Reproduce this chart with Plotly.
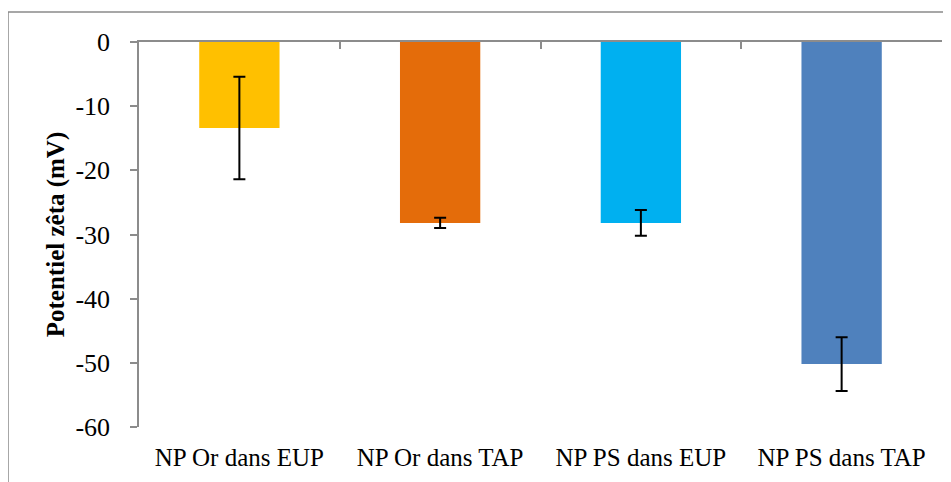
import plotly.graph_objects as go

categories = ["NP Or dans EUP", "NP Or dans TAP", "NP PS dans EUP", "NP PS dans TAP"]
values = [-13.4, -28.2, -28.2, -50.2]
errors = [8.0, 0.8, 2.0, 4.2]
colors = ["#FFC000", "#E46C0A", "#00B0F0", "#4F81BD"]
y_ticks = [0, -10, -20, -30, -40, -50, -60]

OFF = 8  # page body margin offset
W, H = 951 - OFF, 482 - OFF
ml, mr, mt, mb = 139 - OFF, 17 - OFF, 42 - OFF, 55
pw, ph = W - ml - mr, H - mt - mb

font_family = "Liberation Serif"
axis_grey = "#8C8C8C"

fig = go.Figure()
fig.add_trace(go.Bar(
    x=list(range(len(categories))), y=values,
    marker=dict(color=colors, line=dict(width=0)),
    error_y=dict(type="data", array=errors, visible=True, color="#000000", thickness=2, width=6),
    showlegend=False, hoverinfo="skip",
))
fig.add_trace(go.Scatter(x=[-0.5, 3.5], y=[0, 0], xaxis="x2", mode="markers",
                         marker=dict(opacity=0), showlegend=False, hoverinfo="skip"))

fig.update_layout(
    width=W, height=H,
    margin=dict(l=ml, r=mr, t=mt, b=mb, pad=0),
    paper_bgcolor="white", plot_bgcolor="white",
    bargap=0.6,
    font=dict(family=font_family, size=26, color="#000000"),
    xaxis=dict(
        range=[-0.5, 3.5], tickmode="array", tickvals=list(range(len(categories))),
        ticktext=categories, showline=False, showgrid=False, zeroline=False,
        ticks="", ticklabelstandoff=13, tickfont=dict(family=font_family, size=25),
    ),
    xaxis2=dict(
        overlaying="x", side="top", anchor="y", range=[-0.5, 3.5],
        tickmode="array", tickvals=[-0.5, 0.5, 1.5, 2.5, 3.5],
        showticklabels=False, ticks="inside", ticklen=7, tickwidth=1.5, tickcolor=axis_grey,
        showline=True, linecolor=axis_grey, linewidth=1.5, showgrid=False, zeroline=False,
    ),
    yaxis=dict(
        range=[-60, 0], tickmode="array", tickvals=y_ticks,
        ticktext=[str(v) for v in y_ticks],
        showline=True, linecolor=axis_grey, linewidth=1.5,
        ticks="outside", ticklen=7, tickwidth=1.5, tickcolor=axis_grey,
        showgrid=False, zeroline=False, ticklabelstandoff=15,
        tickfont=dict(family=font_family, size=26),
        title=dict(text="<b>Potentiel zêta (mV)</b>", font=dict(family=font_family, size=25), standoff=4),
    ),
    shapes=[dict(
        type="rect", xref="paper", yref="paper",
        x0=(8 - 8 - ml) / pw, x1=(951 - ml) / pw,
        y0=(H - mb - 500) / ph, y1=(H - mb - (12 - OFF)) / ph,
        line=dict(color="#8A8A8A", width=1.5), fillcolor="rgba(0,0,0,0)", layer="below",
    )],
)

fig.write_html("out.html")
